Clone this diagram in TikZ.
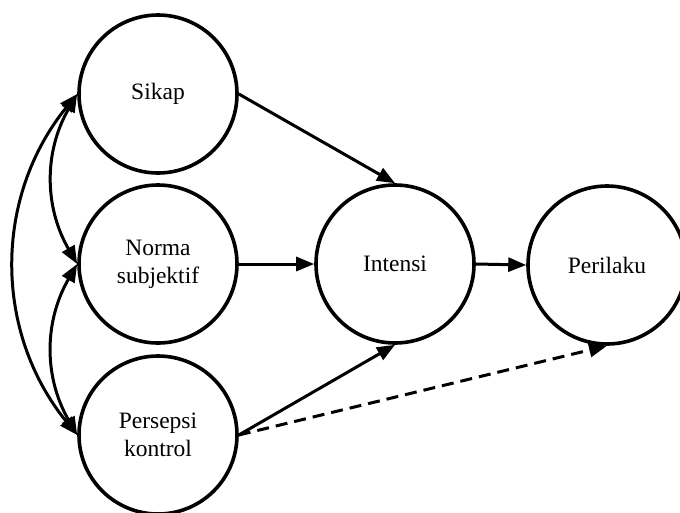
\documentclass[tikz,border=0pt]{standalone}
\usepackage{fontspec}
\setmainfont{Liberation Serif}
\usetikzlibrary{arrows.meta}
\begin{document}
\begin{tikzpicture}[x=1pt,y=-1pt,
  var/.style={circle,draw,line width=3.6pt,minimum size=158pt,inner sep=0pt,
    align=center,font=\fontsize{23.5}{28}\selectfont},
  conn/.style={line width=3pt,-{Triangle[length=18pt,width=14pt]}},
  biconn/.style={line width=3pt,{Triangle[length=18pt,width=14pt]}-{Triangle[length=18pt,width=14pt]}}]
\useasboundingbox (0,0) rectangle (680,512);
\node[var] (s) at (158,94) {Sikap};
\node[var] (n) at (158,264) {Norma\\subjektif};
\node[var] (p) at (158,435) {Persepsi\\kontrol};
\node[var] (i) at (395,264) {Intensi};
\node[var] (r) at (607,265) {Perilaku};
\draw[conn] (s.east) -- (i.north);
\draw[conn] (n.east) -- (i.west);
\draw[conn] (p.east) -- (i.south);
\draw[conn] (i.east) -- (r.west);
\draw[conn,dash pattern=on 12pt off 7pt] (p.east) -- (r.south);
\draw[biconn] (s.west) to[bend right=30] (n.west);
\draw[biconn] (n.west) to[bend right=30] (p.west);
\draw[biconn] (s.west) to[bend right=39] (p.west);
\end{tikzpicture}
\end{document}
